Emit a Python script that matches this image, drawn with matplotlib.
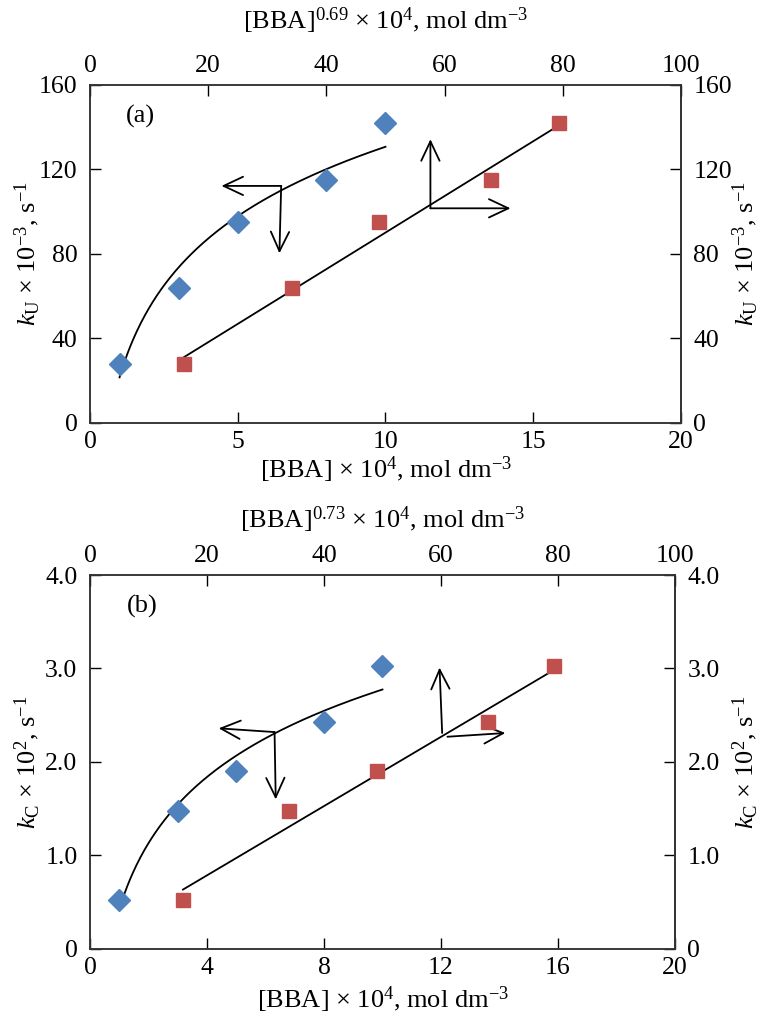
import numpy as np
import matplotlib
matplotlib.use("Agg")
import matplotlib.pyplot as plt

plt.rcParams['font.family'] = ['Liberation Serif', 'DejaVu Serif']
plt.rcParams['mathtext.fontset'] = 'custom'
plt.rcParams['mathtext.rm'] = 'Liberation Serif'
plt.rcParams['mathtext.it'] = 'Liberation Serif:italic'
plt.rcParams['font.size'] = 18.5

# data
bba = [1, 3, 5, 8, 10]                      # [BBA] x 10^4 (bottom axis)
bba_pow_a = [15.9, 34.1, 48.9, 67.9, 79.4]  # [BBA]^0.69 x 10^4 (top axis, panel a)
bba_pow_b = [15.9, 34.1, 49.0, 68.0, 79.4]  # [BBA]^0.73 x 10^4 (top axis, panel b)
k_u = [28, 64, 95, 115, 142]                # kU x 10^-3
k_c = [0.52, 1.48, 1.90, 2.43, 3.03]        # kC x 10^2

xticks_bot_a = [0, 5, 10, 15, 20]
xticks_bot_b = [0, 4, 8, 12, 16, 20]
xticks_top = [0, 20, 40, 60, 80, 100]
yticks_a = [0, 40, 80, 120, 160]
ylabels_a = ['0', '40', '80', '120', '160']
yticks_b = [0, 1, 2, 3, 4]
ylabels_b = ['0', '1.0', '2.0', '3.0', '4.0']

# arrow annotations (tail, tip) in bottom-x / left-y units
arrows_a = [((6.47, 112.2), (4.45, 112.2)), ((6.47, 112.2), (6.41, 80.3)),
            ((11.52, 101.6), (11.52, 134.3)), ((11.52, 101.6), (14.23, 101.6))]
arrows_b = [((6.31, 2.32), (4.40, 2.36)), ((6.31, 2.32), (6.35, 1.60)),
            ((12.04, 2.31), (11.95, 3.01)), ((12.22, 2.27), (14.20, 2.31))]

blue = '#4F81BD'
red = '#C0504D'


def panel(rect, x_pow, y, xticks_bot, yticks, ylabels, ylim, toplab, ylab, tag, tagpos,
          arrows, lab_pos):
    ax = fig.add_axes(rect)
    axt = ax.twiny()

    # log trendline for [BBA], linear trendline for [BBA]^n
    c_log = np.polyfit(np.log(bba), y, 1)
    xs = np.linspace(min(bba), max(bba), 200)
    ax.plot(xs, np.polyval(c_log, np.log(xs)), color='k', lw=1.3, zorder=2)
    c_lin = np.polyfit(x_pow, y, 1)
    xl = np.array([min(x_pow), max(x_pow)])
    axt.plot(xl, np.polyval(c_lin, xl), color='k', lw=1.3, zorder=2)

    ax.plot(bba, y, ls='none', marker='D', ms=11, color=blue, mec=blue, zorder=3)
    axt.plot(x_pow, y, ls='none', marker='s', ms=10.5, color=red, mec=red, zorder=3)

    ax.set_xlim(0, 20)
    ax.set_ylim(*ylim)
    axt.set_xlim(0, 100)
    ax.set_xticks(xticks_bot)
    axt.set_xticks(xticks_top)
    ax.set_yticks(yticks, ylabels)

    sec = ax.secondary_yaxis('right')
    sec.set_yticks(yticks, ylabels)
    sec.tick_params(direction='in', length=8, width=1, pad=9)

    ax.tick_params(direction='in', length=8, width=1)
    ax.tick_params(axis='y', pad=9)
    ax.tick_params(axis='x', pad=6)
    axt.tick_params(direction='in', length=8, width=1, pad=6)

    # axis titles, placed by their centres
    xb, xt, yl, yr = lab_pos
    ax.set_xlabel(r'[BBA] $\times$ 10$^4$, mol dm$^{-3}$', fontsize=19)
    axt.set_xlabel(toplab, fontsize=19)
    ax.set_ylabel(ylab, fontsize=19)
    sec.set_ylabel(ylab, fontsize=19)
    ax.xaxis.set_label_coords(0.5, xb)
    axt.xaxis.set_label_coords(0.5, xt)
    ax.yaxis.set_label_coords(yl, 0.5)
    sec.yaxis.set_label_coords(yr, 0.5, transform=ax.transAxes)
    for lab in (ax.xaxis.label, axt.xaxis.label, ax.yaxis.label, sec.yaxis.label):
        lab.set_verticalalignment('center')
        lab.set_horizontalalignment('center')

    for a in (ax, axt, sec):
        for s in a.spines.values():
            s.set_linewidth(1.1)
            s.set_color('#333333')

    ax.text(tagpos[0], tagpos[1], tag, ha='center', va='center', fontsize=19)

    for tail, tip in arrows:
        ax.annotate('', xy=tip, xytext=tail,
                    arrowprops=dict(arrowstyle='->,head_length=0.7,head_width=0.33',
                                    lw=1.3, color='k', shrinkA=0, shrinkB=0,
                                    mutation_scale=20))
    return ax


fig = plt.figure(figsize=(7.62, 10.17), dpi=100)

panel([0.1181, 0.5841, 0.7756, 0.3324], bba_pow_a, k_u, xticks_bot_a, yticks_a, ylabels_a,
      (0, 160), r'[BBA]$^{0.69}$ $\times$ 10$^4$, mol dm$^{-3}$',
      r'$k_\mathrm{U}$ $\times$ 10$^{-3}$, s$^{-1}$', '(a)', (1.7, 145), arrows_a,
      (-0.139, 1.19, -0.107, 1.109))

panel([0.1181, 0.0669, 0.7677, 0.3677], bba_pow_b, k_c, xticks_bot_b, yticks_b, ylabels_b,
      (0, 4), r'[BBA]$^{0.73}$ $\times$ 10$^4$, mol dm$^{-3}$',
      r'$k_\mathrm{C}$ $\times$ 10$^2$, s$^{-1}$', '(b)', (1.8, 3.66), arrows_b,
      (-0.136, 1.147, -0.108, 1.120))

fig.savefig('out.png', dpi=100)
